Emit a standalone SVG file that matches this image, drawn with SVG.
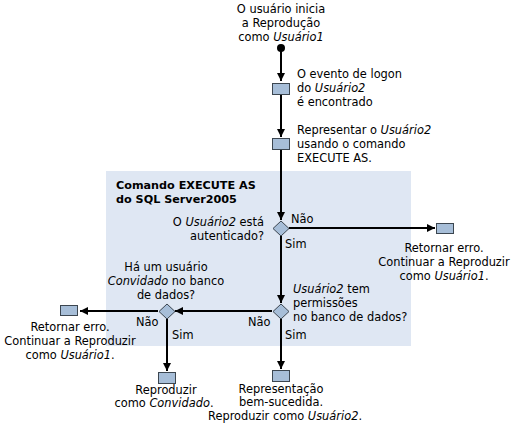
<svg xmlns="http://www.w3.org/2000/svg" width="515" height="423" viewBox="0 0 515 423">
<defs>
<marker id="ah" viewBox="0 0 10 10" refX="10" refY="5" markerWidth="8" markerHeight="8" markerUnits="userSpaceOnUse" orient="auto">
<path d="M0,0 L10,5 L0,10 Z" fill="#000"/>
</marker>
</defs>
<style>
text{font-family:"DejaVu Sans",Verdana,sans-serif;font-size:11.4px;fill:#000}
.b{font-weight:bold;font-size:11.2px}
.c{text-anchor:middle}
.r{text-anchor:end}
.box{fill:#A7BED8;stroke:#3C4650;stroke-width:1}
.ln{stroke:#000;stroke-width:2;fill:none}
</style>
<rect id="panel" x="106" y="171" width="305" height="175" fill="#DFE7F3"/>
<g id="connectors">
<line class="ln" x1="281" y1="48" x2="281" y2="81" marker-end="url(#ah)"/>
<line class="ln" x1="281" y1="95" x2="281" y2="137" marker-end="url(#ah)"/>
<line class="ln" x1="281" y1="150" x2="281" y2="220" marker-end="url(#ah)"/>
<line class="ln" x1="289" y1="228" x2="435" y2="228" marker-end="url(#ah)"/>
<line class="ln" x1="281" y1="236" x2="281" y2="303" marker-end="url(#ah)"/>
<line class="ln" x1="281" y1="319" x2="281" y2="369" marker-end="url(#ah)"/>
<line class="ln" x1="272" y1="311" x2="175" y2="311" marker-end="url(#ah)"/>
<line class="ln" x1="158" y1="311" x2="80" y2="311" marker-end="url(#ah)"/>
<line class="ln" x1="167" y1="319" x2="167" y2="371" marker-end="url(#ah)"/>
</g>
<g id="start"><circle cx="281" cy="48" r="4" fill="#000"/>
<text class="c" x="281" y="13">O usuário inicia</text>
<text class="c" x="281" y="27">a Reprodução</text>
<text class="c" x="281" y="41">como <tspan font-style="italic">Usuário1</tspan></text></g>
<g id="logon"><rect class="box" x="272.5" y="83.5" width="17" height="11"/>
<text x="297" y="78">O evento de logon</text>
<text x="297" y="92">do <tspan font-style="italic">Usuário2</tspan></text>
<text x="297" y="106">é encontrado</text></g>
<g id="impersonate"><rect class="box" x="272.5" y="138.5" width="17" height="11"/>
<text x="297" y="134">Representar o <tspan font-style="italic">Usuário2</tspan></text>
<text x="297" y="148">usando o comando</text>
<text x="297" y="162">EXECUTE AS.</text></g>
<g id="title"><text class="b" x="116" y="189">Comando EXECUTE AS</text>
<text class="b" x="116" y="203">do SQL Server2005</text></g>
<g id="d1"><path class="box" d="M281,221 L289,228.5 L281,236 L273,228.5 Z"/>
<text class="r" x="264" y="226">O <tspan font-style="italic">Usuário2</tspan> está</text>
<text class="r" x="264" y="240">autenticado?</text>
<text x="291" y="223">Não</text>
<text x="285" y="248">Sim</text></g>
<g id="err1"><rect class="box" x="436.5" y="223.5" width="17" height="10"/>
<text class="c" x="444" y="252">Retornar erro.</text>
<text class="c" x="444" y="266">Continuar a Reproduzir</text>
<text class="c" x="444" y="280">como <tspan font-style="italic">Usuário1</tspan>.</text></g>
<g id="d2"><path class="box" d="M281,304 L289,311.5 L281,319 L273,311.5 Z"/>
<text x="293" y="293"><tspan font-style="italic">Usuário2</tspan> tem</text>
<text x="293" y="307">permissões</text>
<text x="293" y="321">no banco de dados?</text>
<text x="248" y="326">Não</text>
<text x="285" y="339">Sim</text></g>
<g id="d3"><path class="box" d="M167,304 L175,311.5 L167,319 L159,311.5 Z"/>
<text class="c" x="166" y="271">Há um usuário</text>
<text class="c" x="166" y="285"><tspan font-style="italic">Convidado</tspan> no banco</text>
<text class="c" x="166" y="299">de dados?</text>
<text x="136" y="326">Não</text>
<text x="172" y="339">Sim</text></g>
<g id="err2"><rect class="box" x="60.5" y="305.5" width="17" height="10"/>
<text class="c" x="70" y="331">Retornar erro.</text>
<text class="c" x="70" y="345">Continuar a Reproduzir</text>
<text class="c" x="70" y="359">como <tspan font-style="italic">Usuário1</tspan>.</text></g>
<g id="guest"><rect class="box" x="158.5" y="372.5" width="17" height="11"/>
<text class="c" x="166" y="394">Reproduzir</text>
<text class="c" x="164" y="407">como <tspan font-style="italic">Convidado</tspan>.</text></g>
<g id="success"><rect class="box" x="272.5" y="370.5" width="17" height="11"/>
<text class="c" x="281" y="393">Representação</text>
<text class="c" x="281" y="406">bem-sucedida.</text>
<text class="c" x="285" y="420">Reproduzir como <tspan font-style="italic">Usuário2</tspan>.</text></g>
</svg>
